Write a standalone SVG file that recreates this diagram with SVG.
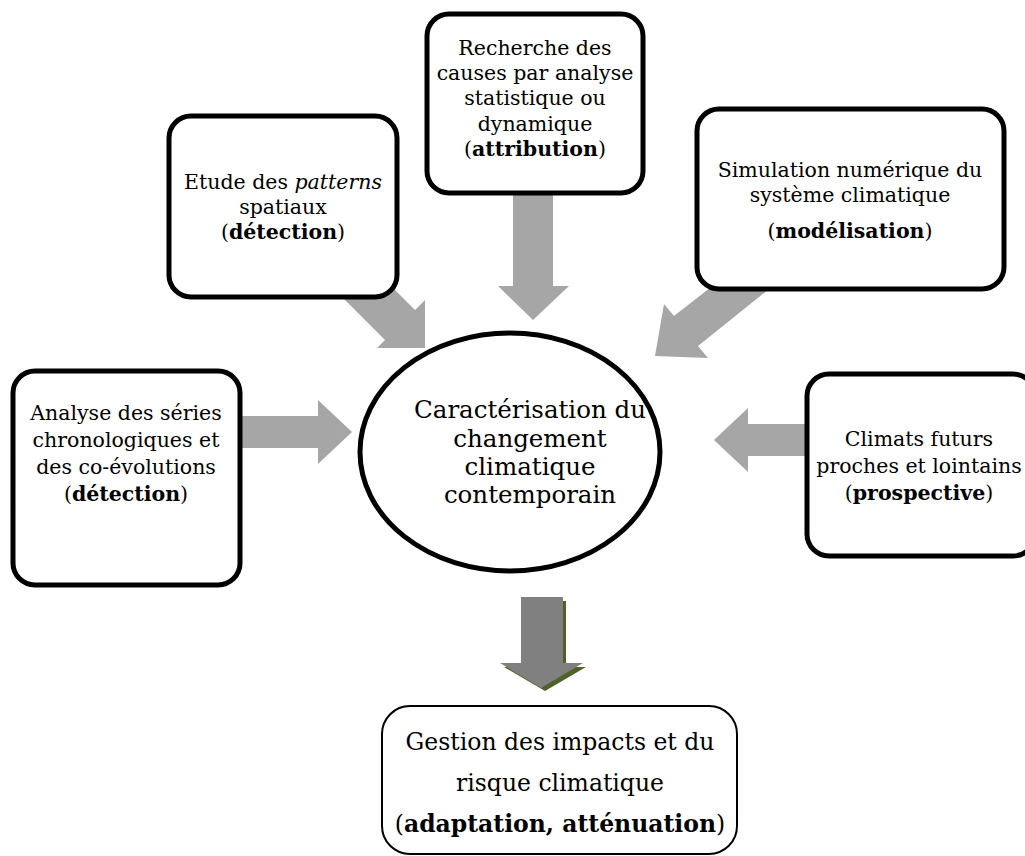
<svg xmlns="http://www.w3.org/2000/svg" width="1025" height="856" viewBox="0 0 1025 856">
<style>
.box{fill:#fff;stroke:#000;stroke-width:5}
.arr{fill:#a6a6a6}
text{font-family:"DejaVu Serif","Liberation Serif",serif;fill:#000;text-anchor:middle}
.t{font-size:20.5px}
.te{font-size:24.5px}
.tg{font-size:23.5px}
.b{font-weight:bold}
.i{font-style:italic}
</style>
<rect width="1025" height="856" fill="#fff"/>
<g id="connectors">
<polygon class="arr" points="365,260 415,310 425,300 425,348 377,348 385,340 335,290"/>
<polygon class="arr" points="513,185 553,185 553,286 569,286 533,320 498,286 513,286"/>
<polygon class="arr" points="784,277 698,346 708,358 655,356 664,304 674,316 761,248"/>
<polygon class="arr" points="235,416 318,416 318,400 352,432 318,464 318,448 235,448"/>
<polygon class="arr" points="812,424 748,424 748,408 714,440 748,472 748,456 812,456"/>
<g id="down-arrow">
<polygon fill="#4f6228" points="524,601 566,601 566,667 586,667 545,691 504,667 524,667"/>
<polygon fill="#808080" points="521,597 563,597 563,663 583,663 541,688 500,663 521,663"/>
</g>
</g>
<g id="n-etude">
<rect class="box" x="169" y="116" width="228" height="181" rx="22"/>
<text class="t" x="283" y="189">Etude des <tspan class="i">patterns</tspan></text>
<text class="t" x="283" y="214">spatiaux</text>
<text class="t" x="283" y="239">(<tspan class="b">détection</tspan>)</text>
</g>
<g id="n-recherche">
<rect class="box" x="427" y="14" width="216" height="179" rx="22"/>
<text class="t" x="535" y="55">Recherche des</text>
<text class="t" x="535" y="80">causes par analyse</text>
<text class="t" x="535" y="105">statistique ou</text>
<text class="t" x="535" y="131">dynamique</text>
<text class="t" x="535" y="156">(<tspan class="b">attribution</tspan>)</text>
</g>
<g id="n-simulation">
<rect class="box" x="697" y="109" width="307" height="180" rx="22"/>
<text class="t" x="850" y="177">Simulation numérique du</text>
<text class="t" x="850" y="202">système climatique</text>
<text class="t" x="850" y="238">(<tspan class="b">modélisation</tspan>)</text>
</g>
<g id="n-analyse">
<rect class="box" x="13" y="371" width="227" height="214" rx="22"/>
<text class="t" x="126" y="420">Analyse des séries</text>
<text class="t" x="126" y="447">chronologiques et</text>
<text class="t" x="126" y="474">des co-évolutions</text>
<text class="t" x="126" y="501">(<tspan class="b">détection</tspan>)</text>
</g>
<g id="n-climats">
<rect class="box" x="807" y="374" width="228" height="182" rx="22"/>
<text class="t" x="919" y="446">Climats futurs</text>
<text class="t" x="919" y="473">proches et lointains</text>
<text class="t" x="919" y="500">(<tspan class="b">prospective</tspan>)</text>
</g>
<g id="n-centre">
<ellipse class="box" cx="510" cy="452" rx="150" ry="119"/>
<text class="te" x="530" y="418">Caractérisation du</text>
<text class="te" x="530" y="447">changement</text>
<text class="te" x="530" y="475">climatique</text>
<text class="te" x="530" y="503">contemporain</text>
</g>
<g id="n-gestion">
<rect x="382" y="706" width="355" height="148" rx="28" fill="#fff" stroke="#000" stroke-width="2"/>
<text class="tg" x="560" y="750">Gestion des impacts et du</text>
<text class="tg" x="560" y="791">risque climatique</text>
<text class="tg" x="560" y="832">(<tspan class="b">adaptation, atténuation</tspan>)</text>
</g>
</svg>
